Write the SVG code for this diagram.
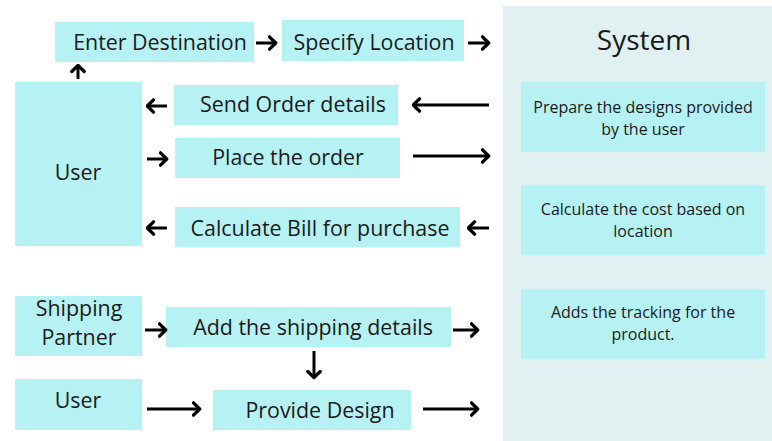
<svg xmlns="http://www.w3.org/2000/svg" width="772" height="441" viewBox="0 0 772 441">
<style>
.box{fill:#b6f2f4}
.panel{fill:#e1f1f2}
.t{font-family:"Open Sans","Noto Sans",sans-serif;fill:#1a1a1a;text-anchor:middle}
.l{font-size:21.4px}
.s{font-size:16px}
.h{font-size:28px}
.c{fill:none;stroke:#000;stroke-width:3}
</style>
<defs>
<marker id="ah" viewBox="0 0 10 16" refX="8.5" refY="8" markerWidth="10" markerHeight="16" markerUnits="userSpaceOnUse" orient="auto">
<path d="M2,1.8 L8.2,8 L2,14.2" fill="none" stroke="#000" stroke-width="3.3" stroke-linecap="round" stroke-linejoin="round"/>
</marker>
</defs>
<rect width="772" height="441" fill="#fff"/>
<g id="system">
<rect class="panel" x="503" y="6" width="269" height="435"/>
<text class="t h" x="644" y="50">System</text>
</g>
<g id="prepare">
<rect class="box" x="521" y="82" width="244" height="70"/>
<text class="t s" x="643" y="113">Prepare the designs provided</text>
<text class="t s" x="643" y="135">by the user</text>
</g>
<g id="calccost">
<rect class="box" x="521" y="185" width="244" height="70"/>
<text class="t s" x="643" y="215">Calculate the cost based on</text>
<text class="t s" x="643" y="237">location</text>
</g>
<g id="tracking">
<rect class="box" x="521" y="289" width="244" height="70"/>
<text class="t s" x="643" y="318">Adds the tracking for the</text>
<text class="t s" x="643" y="340">product.</text>
</g>
<g id="enter">
<rect class="box" x="55" y="22" width="199" height="40"/>
<text class="t l" x="160" y="50">Enter Destination</text>
</g>
<g id="specify">
<rect class="box" x="282" y="20" width="182" height="41"/>
<text class="t l" x="374" y="50">Specify Location</text>
</g>
<g id="user1">
<rect class="box" x="15" y="82" width="127" height="164"/>
<text class="t l" x="78" y="180">User</text>
</g>
<g id="send">
<rect class="box" x="174" y="85" width="224" height="40"/>
<text class="t l" x="293" y="112">Send Order details</text>
</g>
<g id="place">
<rect class="box" x="175" y="138" width="225" height="40"/>
<text class="t l" x="288" y="165">Place the order</text>
</g>
<g id="bill">
<rect class="box" x="175" y="207" width="285" height="40"/>
<text class="t l" x="320" y="236">Calculate Bill for purchase</text>
</g>
<g id="shipper">
<rect class="box" x="15" y="296" width="127" height="60"/>
<text class="t l" x="79" y="316">Shipping</text>
<text class="t l" x="79" y="345">Partner</text>
</g>
<g id="addship">
<rect class="box" x="166" y="307" width="285" height="40"/>
<text class="t l" x="313" y="335">Add the shipping details</text>
</g>
<g id="user2">
<rect class="box" x="15" y="379" width="127" height="51"/>
<text class="t l" x="78" y="408">User</text>
</g>
<g id="provide">
<rect class="box" x="213" y="390" width="198" height="40"/>
<text class="t l" x="320" y="418">Provide Design</text>
</g>
<g id="connectors" class="c">
<line x1="256" y1="43" x2="276" y2="43" marker-end="url(#ah)"/>
<line x1="468" y1="43" x2="489" y2="43" marker-end="url(#ah)"/>
<line x1="78" y1="79" x2="78" y2="65" marker-end="url(#ah)"/>
<line x1="167" y1="106" x2="147" y2="106" marker-end="url(#ah)"/>
<line x1="489" y1="105" x2="413" y2="105" marker-end="url(#ah)"/>
<line x1="147" y1="159" x2="167" y2="159" marker-end="url(#ah)"/>
<line x1="413" y1="156" x2="489" y2="156" marker-end="url(#ah)"/>
<line x1="167" y1="228" x2="147" y2="228" marker-end="url(#ah)"/>
<line x1="489" y1="228" x2="468" y2="228" marker-end="url(#ah)"/>
<line x1="145" y1="330" x2="166" y2="330" marker-end="url(#ah)"/>
<line x1="453" y1="330" x2="478" y2="330" marker-end="url(#ah)"/>
<line x1="314" y1="351" x2="314" y2="378" marker-end="url(#ah)"/>
<line x1="147" y1="409" x2="200" y2="409" marker-end="url(#ah)"/>
<line x1="423" y1="409" x2="478" y2="409" marker-end="url(#ah)"/>
</g>
</svg>
